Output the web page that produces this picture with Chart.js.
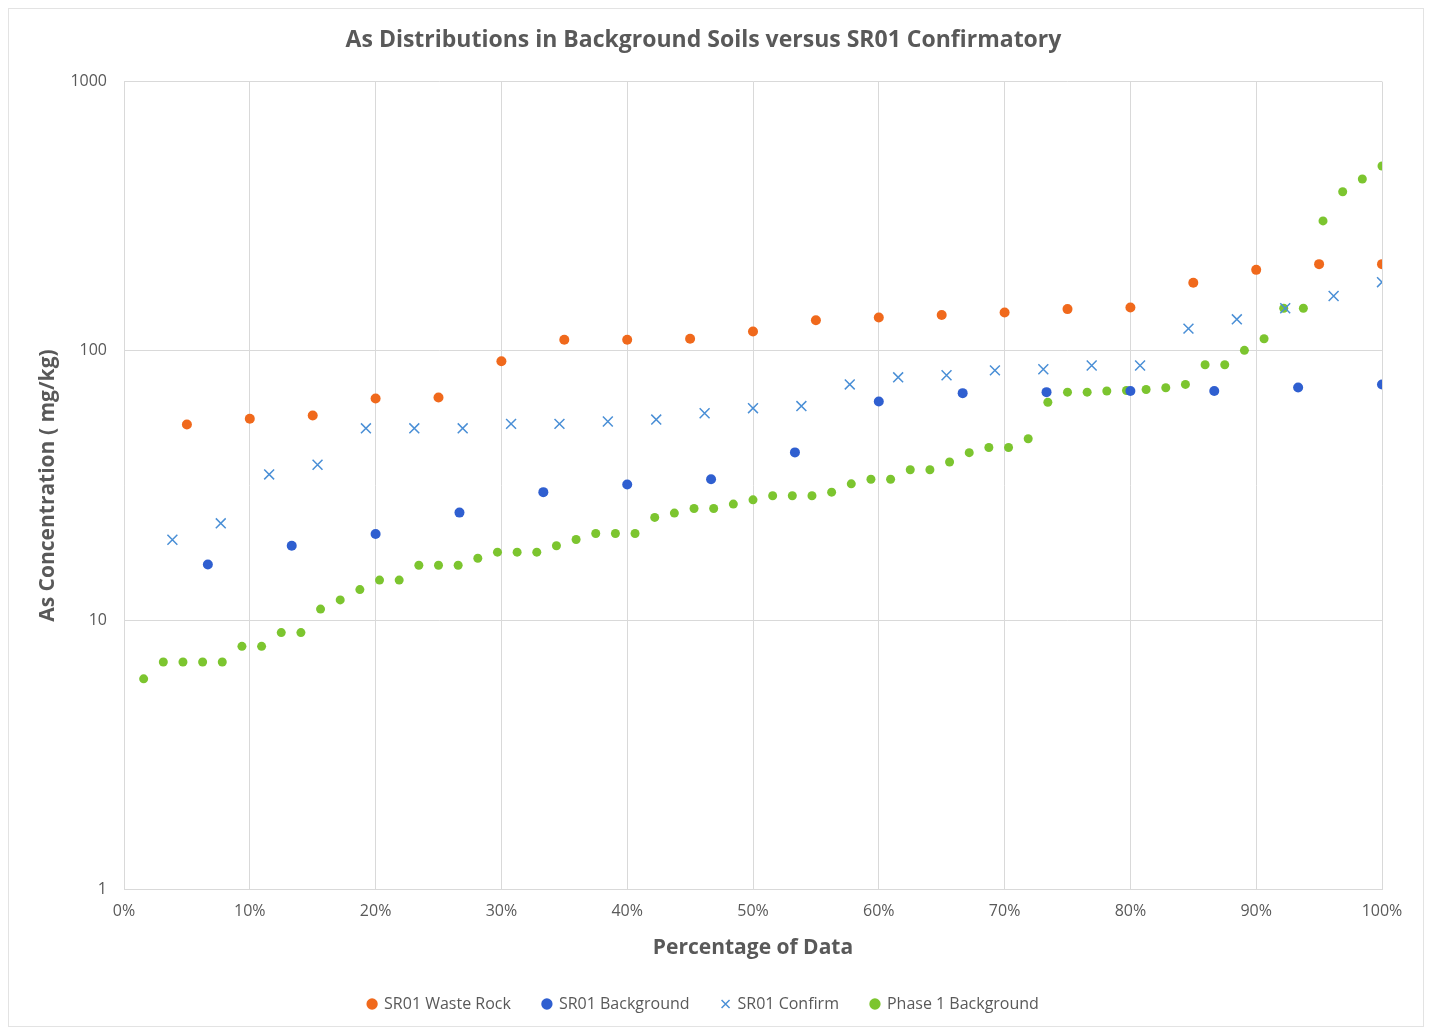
<!DOCTYPE html>
<html>
<head>
<meta charset="utf-8">
<script src="https://cdn.jsdelivr.net/npm/chart.js@4.4.0/dist/chart.umd.min.js"></script>
<style>
  html, body { margin: 0; padding: 0; background: #fff; }
  #wrap { position: relative; width: 1431px; height: 1030px; }
</style>
</head>
<body>
<div id="wrap"><canvas id="chart"></canvas></div>
<script>
// values, each list sorted low -> high
var wasteRock = [53.3, 56, 57.6, 66.6, 67.2, 91.5, 110, 110, 111, 118, 130, 133, 136, 139, 143, 145, 179, 200, 210, 210];
var sr01Background = [16.1, 18.9, 20.9, 25.1, 29.9, 31.9, 33.4, 42, 64.9, 69.7, 70.3, 71, 71, 73.2, 75.1];
var sr01Confirm = [19.9, 22.9, 34.8, 37.8, 51.6, 51.6, 51.6, 53.6, 53.6, 54.7, 55.6, 58.7, 61.3,
  62.4, 75.1, 79.8, 81.2, 84.7, 85.5, 88.3, 88.3, 121, 131, 144, 160, 180];
var phase1Background = [6.06, 7, 7, 7, 7, 8, 8, 9, 9, 11, 11.9, 13, 14.1, 14.1, 16, 16, 16, 17,
  17.9, 17.9, 17.9, 18.9, 19.95, 21, 21, 21, 24.1, 25, 26, 26, 27, 28, 29, 29, 29, 29.9, 32.1,
  33.4, 33.4, 36.2, 36.2, 38.7, 41.9, 43.8, 43.8, 47.2, 64.5, 70.3, 70.3, 71, 71.3, 71.9, 73,
  75.1, 88.9, 88.9, 100.5, 111, 144, 144, 304, 390, 435, 486];

var seriesNames = ["SR01 Waste Rock", "SR01 Background", "SR01 Confirm", "Phase 1 Background"];
var yTickValues = [1, 10, 100, 1000];

// percentage of data: rank / count
function toPoints(vals) {
  return vals.map(function (v, i) {
    return { x: (i + 1) / vals.length * 100, y: v };
  });
}

var axisGrey = "#595959";
var gridGrey = "#d9d9d9";
var font = "'Open Sans', Lato, sans-serif";

var frame = {
  id: "frame",
  beforeDraw: function (chart) {
    var c = chart.ctx;
    c.save();
    c.fillStyle = "#fff";
    c.fillRect(0, 0, chart.width, chart.height);
    c.strokeStyle = "#e3e3e3";
    c.lineWidth = 1;
    c.strokeRect(8.5, 8.5, 1415, 1018);
    c.restore();
  }
};

var ctx = document.getElementById("chart").getContext("2d");

var myChart = new Chart(ctx, {
  type: "scatter",
  data: {
    datasets: [
      {
        label: seriesNames[0],
        data: toPoints(wasteRock),
        pointStyle: "circle",
        pointRadius: 5,
        backgroundColor: "#F0691C",
        borderColor: "#F0691C",
        borderWidth: 0
      },
      {
        label: seriesNames[1],
        data: toPoints(sr01Background),
        pointStyle: "circle",
        pointRadius: 5,
        backgroundColor: "#2F5FD0",
        borderColor: "#2F5FD0",
        borderWidth: 0
      },
      {
        label: seriesNames[2],
        data: toPoints(sr01Confirm),
        pointStyle: "crossRot",
        pointRadius: 7,
        backgroundColor: "#4A8FD6",
        borderColor: "#4A8FD6",
        borderWidth: 1.5
      },
      {
        label: seriesNames[3],
        data: toPoints(phase1Background),
        pointStyle: "circle",
        pointRadius: 4.5,
        backgroundColor: "#7CC52F",
        borderColor: "#7CC52F",
        borderWidth: 0
      }
    ]
  },
  options: {
    responsive: true,
    maintainAspectRatio: false,
    animation: false,
    layout: {
      padding: { left: 25, right: 49, top: 0, bottom: 8 }
    },
    plugins: {
      title: {
        display: true,
        text: "As Distributions in Background Soils versus SR01 Confirmatory",
        color: axisGrey,
        font: { family: font, size: 23, weight: "bold" },
        padding: { top: 27, bottom: 27 }
      },
      legend: {
        display: true,
        position: "bottom",
        labels: {
          usePointStyle: true,
          boxWidth: 8,
          boxHeight: 8,
          padding: 32,
          color: axisGrey,
          font: { family: font, size: 16 }
        }
      },
      tooltip: { enabled: false }
    },
    scales: {
      x: {
        type: "linear",
        min: 0,
        max: 100,
        ticks: {
          stepSize: 10,
          color: axisGrey,
          padding: 12,
          font: { family: font, size: 16 },
          callback: function (value) {
            return value + "%";
          }
        },
        grid: { color: gridGrey, drawTicks: false },
        border: { color: gridGrey },
        title: {
          display: true,
          text: "Percentage of Data",
          color: axisGrey,
          font: { family: font, size: 21, weight: "bold" },
          padding: { top: 3, bottom: 3 }
        }
      },
      y: {
        type: "logarithmic",
        min: 1,
        max: 1000,
        afterBuildTicks: function (scale) {
          scale.ticks = yTickValues.map(function (v) { return { value: v }; });
        },
        afterFit: function (scale) {
          scale.width = 99;
        },
        ticks: {
          color: axisGrey,
          padding: 17,
          font: { family: font, size: 16 },
          callback: function (value) {
            return String(value);
          }
        },
        grid: { color: gridGrey, drawTicks: false },
        border: { color: gridGrey },
        title: {
          display: true,
          text: "As Concentration ( mg/kg)",
          color: axisGrey,
          font: { family: font, size: 21, weight: "bold" },
          padding: { top: 10, bottom: 0 }
        }
      }
    }
  },
  plugins: [frame]
});
</script>
</body>
</html>
